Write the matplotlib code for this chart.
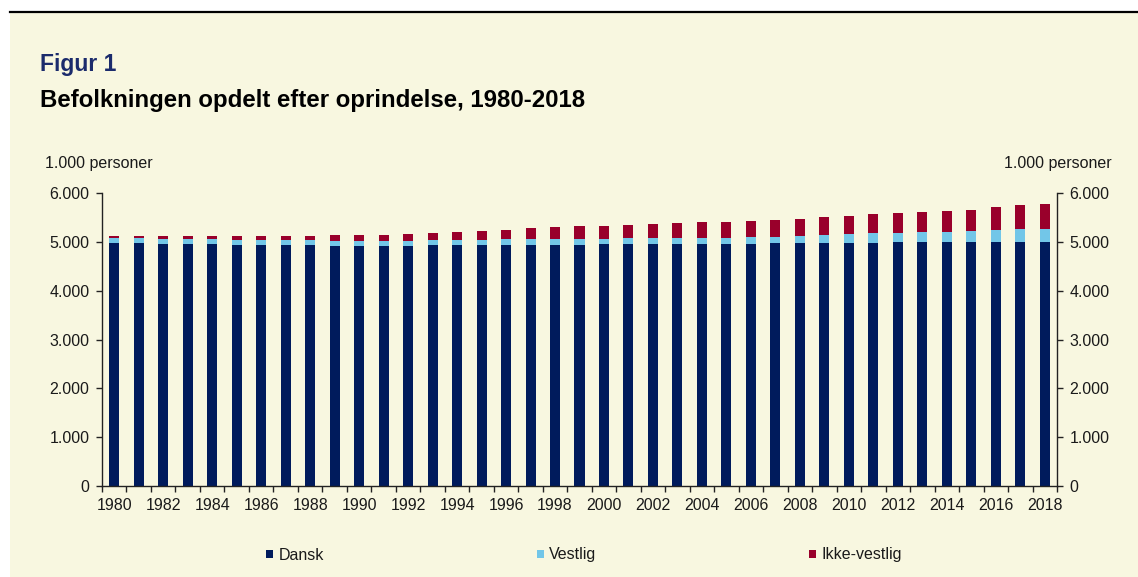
"""
plot.py - Befolkningen opdelt efter oprindelse, 1980-2018 (stacked bars).
"""

import matplotlib

matplotlib.use("Agg")
import matplotlib.pyplot as plt
import numpy as np
from matplotlib.patches import Patch, Rectangle
from matplotlib.ticker import FuncFormatter

# ------------------------------------------------------------------ data

years = list(range(1980, 2019))

# 1.000 personer
dansk = [4970, 4968, 4962, 4955, 4948, 4940, 4935, 4932, 4928, 4922,
         4918, 4920, 4922, 4925, 4930, 4935, 4938, 4940, 4942, 4944,
         4946, 4948, 4950, 4952, 4955, 4958, 4962, 4966, 4970, 4975,
         4980, 4985, 4988, 4990, 4992, 4994, 4993, 4992, 4990]
vestlig = [102, 102, 101, 100, 100, 100, 101, 101, 101, 101,
           102, 103, 104, 105, 106, 107, 110, 113, 115, 117,
           119, 121, 123, 125, 127, 130, 135, 142, 155, 168,
           180, 190, 199, 207, 217, 230, 247, 264, 281]
ikke_vestlig = [50, 54, 56, 61, 64, 71, 80, 92, 100, 107,
                115, 124, 136, 151, 161, 174, 203, 222, 238, 253,
                265, 280, 295, 307, 316, 323, 330, 339, 351, 368,
                375, 386, 394, 405, 418, 436, 467, 493, 510]

series_labels = ["Dansk", "Vestlig", "Ikke-vestlig"]
series_colors = ["#001b5c", "#72c6e8", "#99002b"]

y_ticks = [0, 1000, 2000, 3000, 4000, 5000, 6000]

# ------------------------------------------------------------------ style

CREAM = "#f8f7e0"
TEXT = "#1a1a1a"
plt.rcParams["font.family"] = ["Liberation Sans", "DejaVu Sans"]
plt.rcParams["font.size"] = 11.5

W, H = 1138, 577
fig = plt.figure(figsize=(W / 100, H / 100), dpi=100)
fig.patch.set_facecolor("white")

# cream panel with black rule on top (kept behind the axes)
fig.patches.append(Rectangle((10 / W, 0), 1 - 10 / W, 1 - 13 / H,
                             transform=fig.transFigure, facecolor=CREAM,
                             edgecolor="none", zorder=-2))
fig.add_artist(plt.Line2D([10 / W, 1], [1 - 12 / H, 1 - 12 / H],
                          transform=fig.transFigure, color="black", lw=1.6,
                          zorder=-1))

left, right, top, bottom = 102, 1057, 193, 486
ax = fig.add_axes([left / W, 1 - bottom / H, (right - left) / W,
                   (bottom - top) / H])
ax.set_facecolor("none")

x = np.arange(len(years))
width = 0.41
base = np.zeros(len(years))
for vals, lab, col in zip([dansk, vestlig, ikke_vestlig],
                          series_labels, series_colors):
    ax.bar(x, vals, width, bottom=base, color=col, label=lab,
           linewidth=0, zorder=2)
    base += np.array(vals)

ax.set_xlim(-0.5, len(years) - 0.5)
ax.set_ylim(0, 6000)

fmt = FuncFormatter(lambda v, _: f"{v:,.0f}".replace(",", "."))
ax.set_yticks(y_ticks)
ax.yaxis.set_major_formatter(fmt)

# bar-boundary ticks, labels every second year
ax.set_xticks(np.arange(len(years) + 1) - 0.5, minor=True)
ax.set_xticks(x[::2])
ax.set_xticklabels([str(y) for y in years[::2]])
ax.tick_params(axis="x", which="major", length=0, pad=9, colors=TEXT)
ax.tick_params(axis="x", which="minor", length=4, width=1, direction="out",
               color="#222222")
ax.tick_params(axis="y", length=4, width=1, pad=5, colors=TEXT,
               color="#222222")

for s in ["top", "right"]:
    ax.spines[s].set_visible(False)
for s in ["left", "bottom"]:
    ax.spines[s].set_color("#222222")
    ax.spines[s].set_linewidth(1)

ax2 = ax.twinx()
ax2.set_ylim(ax.get_ylim())
ax2.set_yticks(y_ticks)
ax2.yaxis.set_major_formatter(fmt)
ax2.tick_params(axis="y", length=4, width=1, pad=5, colors=TEXT,
                color="#222222")
for s in ["top", "left", "bottom"]:
    ax2.spines[s].set_visible(False)
ax2.spines["right"].set_color("#222222")
ax2.spines["right"].set_linewidth(1)

# titles and unit labels
fig.text(40 / W, 1 - 71 / H, "Figur 1", fontsize=16.5, fontweight="bold",
         color="#1b2b6c", va="baseline", ha="left")
fig.text(40 / W, 1 - 107 / H,
         "Befolkningen opdelt efter oprindelse, 1980-2018",
         fontsize=17.3, fontweight="bold", color="black",
         va="baseline", ha="left")
fig.text(45 / W, 1 - 163 / H, "1.000 personer", color=TEXT,
         va="center", ha="left")
fig.text(1112 / W, 1 - 163 / H, "1.000 personer", color=TEXT,
         va="center", ha="right")

handles = [Patch(facecolor=c, edgecolor="none") for c in series_colors]
fig.legend(handles, series_labels, loc="center left",
           bbox_to_anchor=(266 / W, 1 - 555 / H), ncol=3, frameon=False,
           handlelength=0.45, handleheight=0.45, handletextpad=0.35,
           columnspacing=13.3, borderpad=0, borderaxespad=0,
           labelcolor=TEXT)

fig.savefig("out.png", dpi=100, facecolor=fig.get_facecolor())
